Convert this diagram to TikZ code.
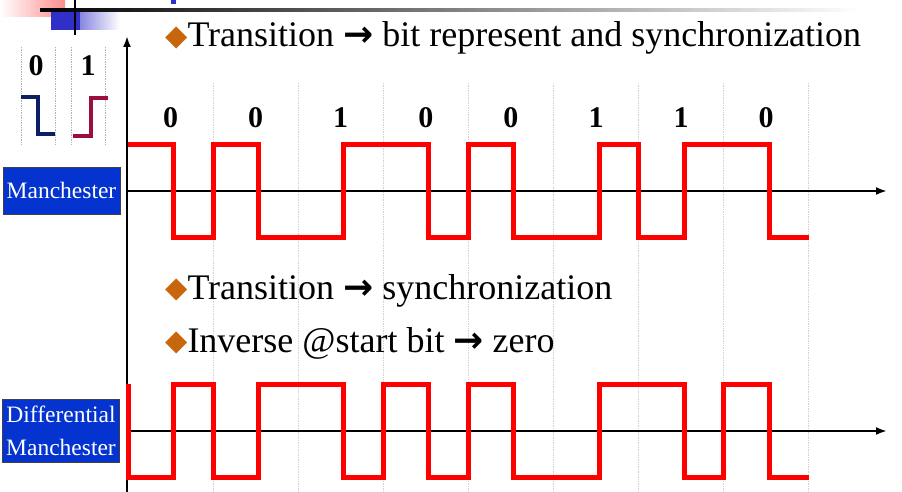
\documentclass[tikz,border=0pt]{standalone}
\usepackage{fontspec}
\setmainfont{Liberation Serif}
\newfontfamily\dejavu{DejaVu Sans}
\usepackage{tikz}
\usetikzlibrary{arrows.meta}
\usepackage{xcolor}
\definecolor{sig}{HTML}{FF0000}
\definecolor{labblue}{HTML}{0533CF}
\definecolor{decblue}{HTML}{3030C8}
\definecolor{bullet}{HTML}{C8660E}
\definecolor{zeroleg}{HTML}{0A1F66}
\definecolor{oneleg}{HTML}{9A0F3D}
\newcommand{\tbul}{\raisebox{1.5pt}{\dejavu\fontsize{29}{29}\selectfont\color{bullet}◆}}
\newcommand{\tarr}{{\dejavu\bfseries →}}

\begin{document}
\begin{tikzpicture}[x=1pt, y=-1pt,
  wave/.style={sig, line width=5pt, line join=miter},
  axis/.style={black, line width=2.2pt, -{Latex[length=11pt,width=8pt]}},
  grid/.style={gray!35, line width=0.7pt, densely dotted},
  bit/.style={anchor=base, inner sep=0pt, font=\fontsize{30}{30}\selectfont\bfseries},
  txt/.style={anchor=base west, inner sep=0pt, font=\fontsize{36}{36}\selectfont},
  lab/.style={fill=labblue, draw=black!75, line width=0.6pt, text=white, align=center,
    minimum width=117pt, inner sep=0pt, font=\fontsize{23.5}{33}\selectfont}]
\useasboundingbox (0,0) rectangle (902,492);

% === slide header ===
\shade[left color=white, right color=red!45] (0,0) rectangle (65,17);
\shade[left color=decblue, right color=white] (51,10) rectangle (120,30);
\fill[decblue] (51,10) rectangle (80,30);
\shade[left color=black, right color=white] (40,8.5) rectangle (860,11.5);
\draw[line width=2pt] (75,0) -- (75,35);
\fill[decblue] (171,0) rectangle (176,4);

% === legend ===
\foreach \x in {21,55,71,105}
  \draw[gray!60, line width=0.7pt, densely dotted] (\x,47) -- (\x,145);
\node[bit] (leg0) at (36,76) {0};
\node[bit] (leg1) at (88,76) {1};
\draw[zeroleg, line width=3.5pt] (21,97) -- (38,97) -- (38,134) -- (55,134);
\draw[oneleg, line width=3.5pt] (73,136) -- (91,136) -- (91,98) -- (108,98);

% === grid and axes ===
\foreach \k in {1,...,8}
  \draw[grid] ({128+85.1*\k},83) -- ({128+85.1*\k},492);
\coordinate (org) at (127,492);
\coordinate (ytip) at (127,36);
\coordinate (m0) at (127,191);
\coordinate (mtip) at (887,191);
\coordinate (d0) at (127,431);
\coordinate (dtip) at (887,431);
\draw[axis] (org) -- (ytip);
\draw[axis] (m0) -- (mtip);
\draw[axis] (d0) -- (dtip);

% === texts ===
\node[txt] (head) at (165,47) {\tbul Transition \tarr{} bit represent and synchronization};
\node[txt] (sync) at (165,299) {\tbul Transition \tarr{} synchronization};
\node[txt] (inverse) at (165,352) {\tbul Inverse @start bit \tarr{} zero};
\foreach \b [count=\i from 0] in {0,0,1,0,0,1,1,0}
  \node[bit] (b\i) at ({170.5+85.1*\i},128) {\b};

% === labels ===
\node[lab, minimum height=47pt] (man) at (61.5,190.5) {Manchester};
\node[lab, minimum height=63pt] (diffman) at (61,430.5) {Differential\\Manchester};

% === Manchester: 0 0 1 0 0 1 1 0 ===
\draw[wave] (128,145) -- (173.5,145) -- (173.5,237) -- (213,237) -- (213,145)
  -- (258.6,145) -- (258.6,237) -- (343.7,237) -- (343.7,145) -- (428.8,145)
  -- (428.8,237) -- (468.4,237) -- (468.4,145) -- (513.9,145) -- (513.9,237)
  -- (599,237) -- (599,145) -- (638.6,145) -- (638.6,237) -- (684,237)
  -- (684,145) -- (769,145) -- (769,237) -- (809,237);

% === Differential Manchester ===
\draw[wave] (128,384) -- (128,477) -- (173.5,477) -- (173.5,384) -- (213,384)
  -- (213,477) -- (258.6,477) -- (258.6,384) -- (343.7,384) -- (343.7,477)
  -- (383.4,477) -- (383.4,384) -- (428.8,384) -- (428.8,477) -- (468.4,477)
  -- (468.4,384) -- (513.9,384) -- (513.9,477) -- (599,477) -- (599,384)
  -- (684,384) -- (684,477) -- (723.7,477) -- (723.7,384) -- (769,384)
  -- (769,477) -- (809,477);

\end{tikzpicture}
\end{document}
